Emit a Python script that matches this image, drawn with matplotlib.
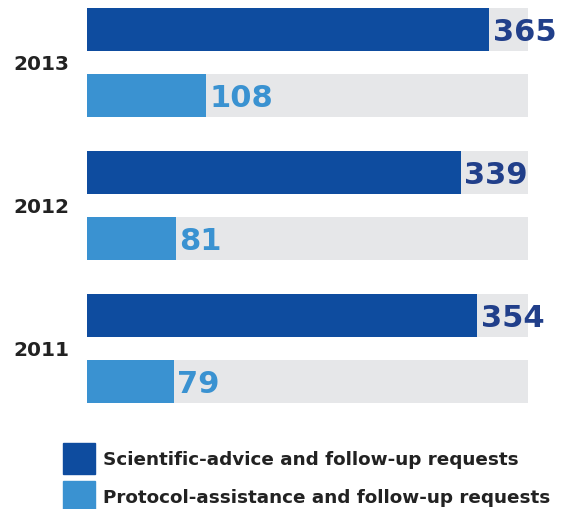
import numpy as np
import matplotlib.pyplot as plt
from matplotlib.patches import Rectangle

years = ['2011', '2012', '2013']
scientific_advice = [354, 339, 365]
protocol_assistance = [79, 81, 108]
series_names = ['Scientific-advice and follow-up requests',
                'Protocol-assistance and follow-up requests']
axis_max = 400

dark_blue = '#0E4C9F'
light_blue = '#3A92D1'
bg_gray = '#E6E7E9'
dark_label = '#213F8A'

fig = plt.figure(figsize=(5.64, 5.09), dpi=100)
ax = fig.add_axes([87 / 564, 1 - 403 / 509, 441 / 564, 395 / 509])

y = np.arange(len(years))
off = 0.229
h = 0.30

# grey tracks behind every bar
ax.barh(y + off, [axis_max] * len(years), height=h, color=bg_gray)
ax.barh(y - off, [axis_max] * len(years), height=h, color=bg_gray)
ax.barh(y + off, scientific_advice, height=h, color=dark_blue)
ax.barh(y - off, protocol_assistance, height=h, color=light_blue)

for yi, v in zip(y, scientific_advice):
    ax.text(v + 3, yi + off, str(v), ha='left', va='center_baseline',
            fontsize=22, fontweight='heavy', color=dark_label, clip_on=False)
for yi, v in zip(y, protocol_assistance):
    ax.text(v + 3, yi - off, str(v), ha='left', va='center_baseline',
            fontsize=22, fontweight='heavy', color=light_blue, clip_on=False)

ax.set_xlim(0, axis_max)
ax.set_ylim(-off - h / 2, 2 + off + h / 2)
ax.set_yticks(y)
ax.set_yticklabels(years, fontsize=14.5, fontweight='bold', color='#222222')
ax.tick_params(axis='y', length=0, pad=13)
ax.set_xticks([])
for s in ax.spines.values():
    s.set_visible(False)

# legend
for i, (name, col) in enumerate(zip(series_names, [dark_blue, light_blue])):
    top = 443 + i * 38
    fig.patches.append(Rectangle((63 / 564, 1 - (top + 31) / 509), 32 / 564, 31 / 509,
                                 transform=fig.transFigure, color=col))
    fig.text(103 / 564, 1 - (top + 17) / 509, name, ha='left', va='center',
             fontsize=13.2, fontweight='bold', color='#222222')

plt.savefig('out.png', dpi=100)
